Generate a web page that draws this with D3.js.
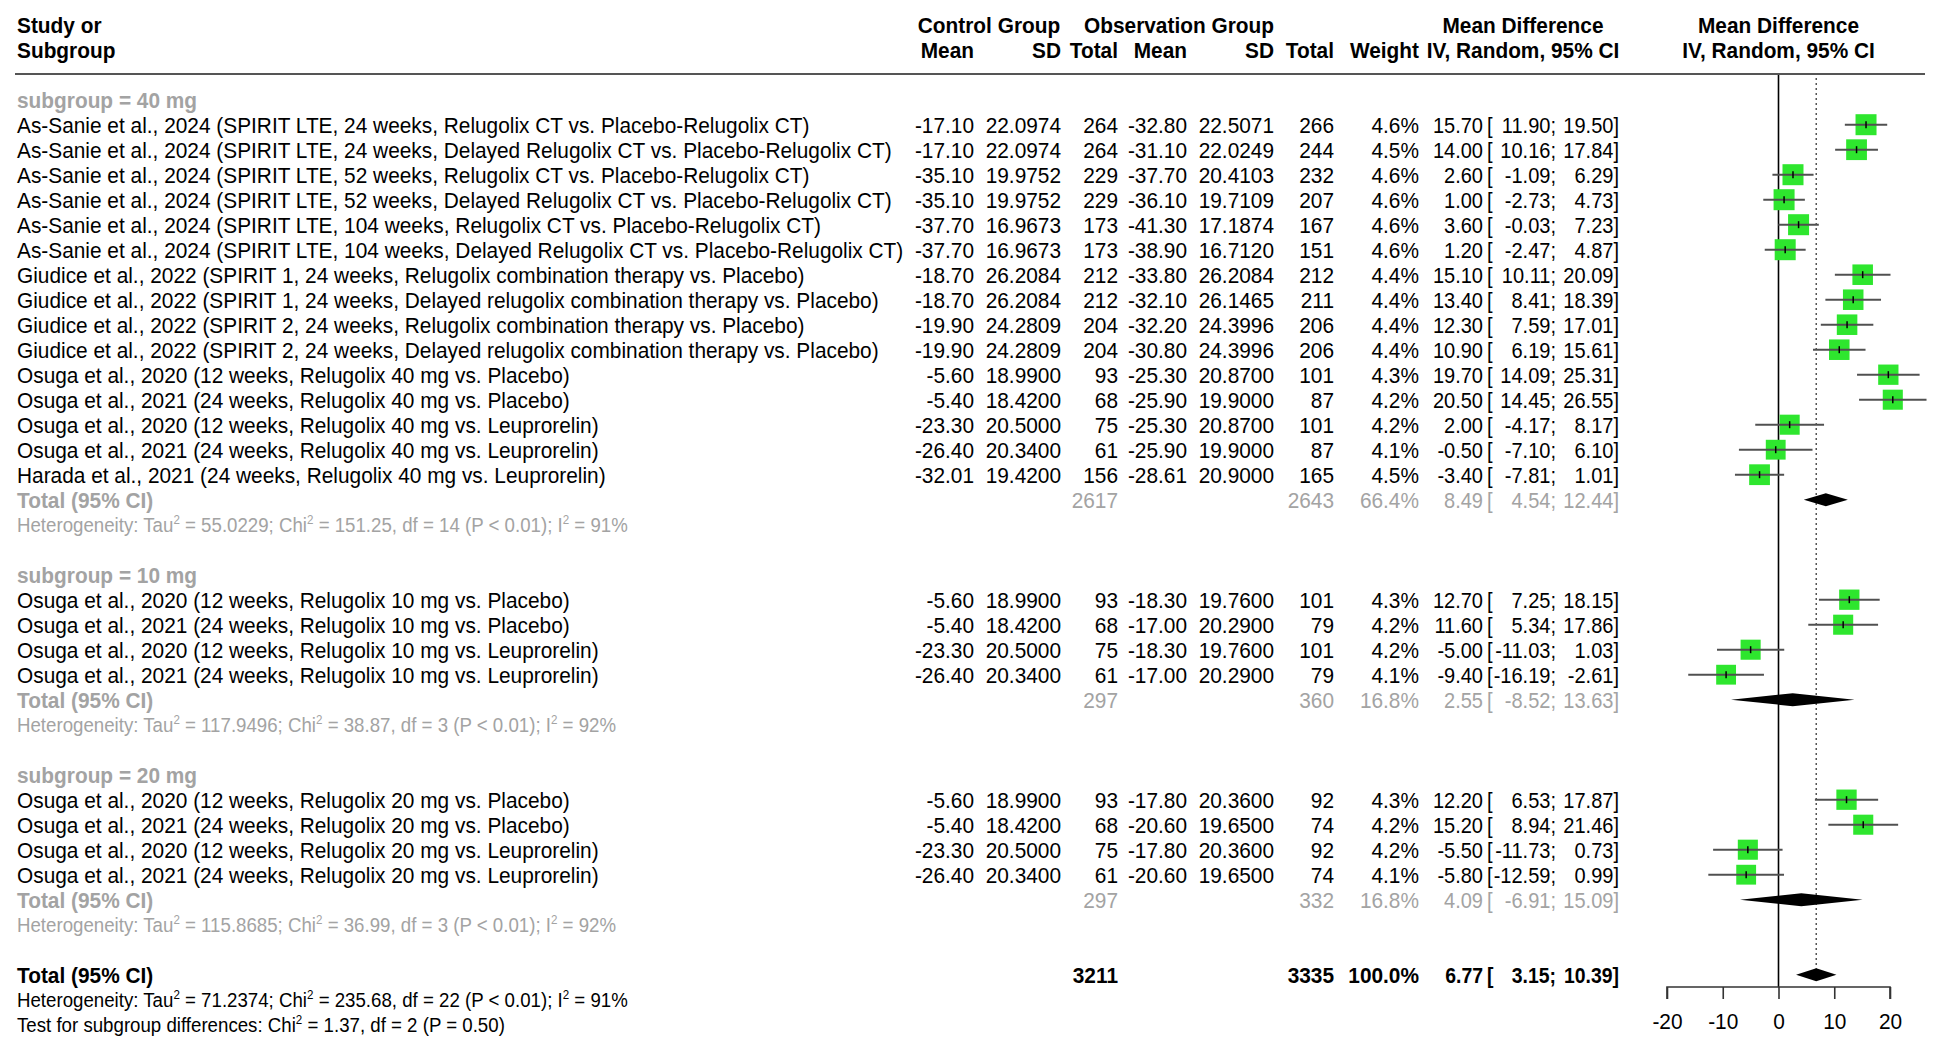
<!DOCTYPE html>
<html><head><meta charset="utf-8">
<script src="https://cdn.jsdelivr.net/npm/d3@7/dist/d3.min.js"></script>
<style>
html,body{margin:0;padding:0;background:#fff;}
svg{display:block;}
text{font-family:"Liberation Sans",Arial,sans-serif;}
</style></head>
<body>
<svg id="chart" width="1939" height="1048"></svg>
<script>
// ---------------- DATA ----------------
const subgroups = ["subgroup = 40 mg", "subgroup = 10 mg", "subgroup = 20 mg"];
const studyGroup = [0,0,0,0,0,0,0,0,0,0,0,0,0,0,0, 1,1,1,1, 2,2,2,2];
const studies = [
 "As-Sanie et al., 2024 (SPIRIT LTE, 24 weeks, Relugolix CT vs. Placebo-Relugolix CT)",
 "As-Sanie et al., 2024 (SPIRIT LTE, 24 weeks, Delayed Relugolix CT vs. Placebo-Relugolix CT)",
 "As-Sanie et al., 2024 (SPIRIT LTE, 52 weeks, Relugolix CT vs. Placebo-Relugolix CT)",
 "As-Sanie et al., 2024 (SPIRIT LTE, 52 weeks, Delayed Relugolix CT vs. Placebo-Relugolix CT)",
 "As-Sanie et al., 2024 (SPIRIT LTE, 104 weeks, Relugolix CT vs. Placebo-Relugolix CT)",
 "As-Sanie et al., 2024 (SPIRIT LTE, 104 weeks, Delayed Relugolix CT vs. Placebo-Relugolix CT)",
 "Giudice et al., 2022 (SPIRIT 1, 24 weeks, Relugolix combination therapy vs. Placebo)",
 "Giudice et al., 2022 (SPIRIT 1, 24 weeks, Delayed relugolix combination therapy vs. Placebo)",
 "Giudice et al., 2022 (SPIRIT 2, 24 weeks, Relugolix combination therapy vs. Placebo)",
 "Giudice et al., 2022 (SPIRIT 2, 24 weeks, Delayed relugolix combination therapy vs. Placebo)",
 "Osuga et al., 2020 (12 weeks, Relugolix 40 mg vs. Placebo)",
 "Osuga et al., 2021 (24 weeks, Relugolix 40 mg vs. Placebo)",
 "Osuga et al., 2020 (12 weeks, Relugolix 40 mg vs. Leuprorelin)",
 "Osuga et al., 2021 (24 weeks, Relugolix 40 mg vs. Leuprorelin)",
 "Harada et al., 2021 (24 weeks, Relugolix 40 mg vs. Leuprorelin)",
 "Osuga et al., 2020 (12 weeks, Relugolix 10 mg vs. Placebo)",
 "Osuga et al., 2021 (24 weeks, Relugolix 10 mg vs. Placebo)",
 "Osuga et al., 2020 (12 weeks, Relugolix 10 mg vs. Leuprorelin)",
 "Osuga et al., 2021 (24 weeks, Relugolix 10 mg vs. Leuprorelin)",
 "Osuga et al., 2020 (12 weeks, Relugolix 20 mg vs. Placebo)",
 "Osuga et al., 2021 (24 weeks, Relugolix 20 mg vs. Placebo)",
 "Osuga et al., 2020 (12 weeks, Relugolix 20 mg vs. Leuprorelin)",
 "Osuga et al., 2021 (24 weeks, Relugolix 20 mg vs. Leuprorelin)"
];
const ctrlMean = ["-17.10","-17.10","-35.10","-35.10","-37.70","-37.70","-18.70","-18.70","-19.90","-19.90","-5.60","-5.40","-23.30","-26.40","-32.01","-5.60","-5.40","-23.30","-26.40","-5.60","-5.40","-23.30","-26.40"];
const ctrlSD = ["22.0974","22.0974","19.9752","19.9752","16.9673","16.9673","26.2084","26.2084","24.2809","24.2809","18.9900","18.4200","20.5000","20.3400","19.4200","18.9900","18.4200","20.5000","20.3400","18.9900","18.4200","20.5000","20.3400"];
const ctrlN = [264,264,229,229,173,173,212,212,204,204,93,68,75,61,156,93,68,75,61,93,68,75,61];
const obsMean = ["-32.80","-31.10","-37.70","-36.10","-41.30","-38.90","-33.80","-32.10","-32.20","-30.80","-25.30","-25.90","-25.30","-25.90","-28.61","-18.30","-17.00","-18.30","-17.00","-17.80","-20.60","-17.80","-20.60"];
const obsSD = ["22.5071","22.0249","20.4103","19.7109","17.1874","16.7120","26.2084","26.1465","24.3996","24.3996","20.8700","19.9000","20.8700","19.9000","20.9000","19.7600","20.2900","19.7600","20.2900","20.3600","19.6500","20.3600","19.6500"];
const obsN = [266,244,232,207,167,151,212,211,206,206,101,87,101,87,165,101,79,101,79,92,74,92,74];
const weight = [4.6,4.5,4.6,4.6,4.6,4.6,4.4,4.4,4.4,4.4,4.3,4.2,4.2,4.1,4.5,4.3,4.2,4.2,4.1,4.3,4.2,4.2,4.1];
const md = [15.70,14.00,2.60,1.00,3.60,1.20,15.10,13.40,12.30,10.90,19.70,20.50,2.00,-0.50,-3.40,12.70,11.60,-5.00,-9.40,12.20,15.20,-5.50,-5.80];
const lower = [11.90,10.16,-1.09,-2.73,-0.03,-2.47,10.11,8.41,7.59,6.19,14.09,14.45,-4.17,-7.10,-7.81,7.25,5.34,-11.03,-16.19,6.53,8.94,-11.73,-12.59];
const upper = [19.50,17.84,6.29,4.73,7.23,4.87,20.09,18.39,17.01,15.61,25.31,26.55,8.17,6.10,1.01,18.15,17.86,1.03,-2.61,17.87,21.46,0.73,0.99];

const subCtrlN = [2617, 297, 297];
const subObsN = [2643, 360, 332];
const subWeight = ["66.4%", "16.8%", "16.8%"];
const subMD = [8.49, 2.55, 4.09];
const subLower = [4.54, -8.52, -6.91];
const subUpper = [12.44, 13.63, 15.09];
const subHet = [
 ["55.0229", "151.25", "14", "91%"],
 ["117.9496", "38.87", "3", "92%"],
 ["115.8685", "36.99", "3", "92%"]
];
const totCtrlN = 3211, totObsN = 3335, totWeight = "100.0%";
const totMD = 6.77, totLower = 3.15, totUpper = 10.39;
const totHet = ["71.2374", "235.68", "22", "91%"];
const testSub = ["1.37", "2", "0.50"];
const axisTicks = [-20, -10, 0, 10, 20];

// ---------------- LAYOUT ----------------
const svg = d3.select("#chart");
const FS = 22, FSs = 19.7;
const GRAY = "#a3a3a3";
const nRows = 40;
const y = d3.scaleLinear().domain([0, nRows]).range([24.7, 1024.7]);
const x = d3.scaleLinear().domain([-20, 20]).range([1667, 1890]);
const col = {cMean:974, cSD:1061, cN:1118, oMean:1187, oSD:1274, oN:1334, wt:1419, est:1483, lb:1487, lo:1556, hi:1619};
const f2 = v => v.toFixed(2);

// horizontal condensing factor so that the font behaves like a narrow face
let SX = 0.82;
{
  const probe = svg.append("text").attr("font-size", FS).text(studies[0]);
  const w = probe.node().getComputedTextLength();
  if (w > 0) SX = 793 / w;
  probe.remove();
}

function txt(xp, row, s, opts={}) {
  const sx = SX * (opts.sx || 1);
  return svg.append("text")
    .attr("transform", `translate(${xp},${y(row)}) scale(${sx},1)`)
    .attr("dy", "0.36em")
    .attr("font-size", opts.size || FS)
    .attr("text-anchor", opts.anchor || "start")
    .attr("font-weight", opts.bold ? "bold" : "normal")
    .attr("fill", opts.color || "#000").text(s);
}
function mdText(row, m, lo, hi, opts) {
  const o = Object.assign({sx:0.96}, opts);
  txt(col.est, row, f2(m), Object.assign({anchor:"end"}, o));
  txt(col.lb, row, "[", o);
  txt(col.lo, row, f2(lo) + ";", Object.assign({anchor:"end"}, o));
  txt(col.hi, row, f2(hi) + "]", Object.assign({anchor:"end"}, o));
}
const SUPSHIFT = 8;
function sup(t, after) {
  t.append("tspan").attr("dy", -SUPSHIFT).attr("font-size", FSs*0.62).text("2");
  t.append("tspan").attr("dy", SUPSHIFT).text(after);
}
function hetText(row, h, opts) {
  const t = txt(17, row, null, {size:FSs, color:opts.color});
  t.append("tspan").text("Heterogeneity: Tau");
  sup(t, " = " + h[0] + "; Chi");
  sup(t, " = " + h[1] + ", df = " + h[2] + " (P < 0.01); I");
  sup(t, " = " + h[3]);
}
function diamond(row, m, lo, hi) {
  const yc = y(row), h = 6.5;
  svg.append("path").attr("d", `M${x(lo)},${yc}L${x(m)},${yc-h}L${x(hi)},${yc}L${x(m)},${yc+h}Z`).attr("fill", "#000");
}

// header
txt(17, 0, "Study or", {bold:true});
txt(17, 1, "Subgroup", {bold:true});
txt((917+1061)/2, 0, "Control Group", {bold:true, anchor:"middle"});
txt((1084+1274)/2, 0, "Observation Group", {bold:true, anchor:"middle"});
txt(col.cMean, 1, "Mean", {bold:true, anchor:"end"});
txt(col.cSD, 1, "SD", {bold:true, anchor:"end"});
txt(col.cN, 1, "Total", {bold:true, anchor:"end"});
txt(col.oMean, 1, "Mean", {bold:true, anchor:"end"});
txt(col.oSD, 1, "SD", {bold:true, anchor:"end"});
txt(col.oN, 1, "Total", {bold:true, anchor:"end"});
txt(col.wt, 1, "Weight", {bold:true, anchor:"end"});
txt(1523, 0, "Mean Difference", {bold:true, anchor:"middle"});
txt(1523, 1, "IV, Random, 95% CI", {bold:true, anchor:"middle"});
txt(x(0), 0, "Mean Difference", {bold:true, anchor:"middle"});
txt(x(0), 1, "IV, Random, 95% CI", {bold:true, anchor:"middle"});
svg.append("line").attr("x1", 15).attr("x2", 1925).attr("y1", 74).attr("y2", 74)
  .attr("stroke", "#555").attr("stroke-width", 2);

// reference lines
const axisY = 987;
svg.append("line").attr("x1", x(0)).attr("x2", x(0)).attr("y1", 75).attr("y2", axisY)
  .attr("stroke", "#000").attr("stroke-width", 1.6);
svg.append("line").attr("x1", x(totMD)).attr("x2", x(totMD)).attr("y1", 78).attr("y2", y(38) - 6)
  .attr("stroke", "#555").attr("stroke-width", 1.5).attr("stroke-dasharray", "2,3");

// rows
let row = 3;
const sqScale = d3.scaleSqrt().domain([0, 4.6]).range([0, 21]);
for (let g = 0; g < subgroups.length; g++) {
  txt(17, row, subgroups[g], {bold:true, color:GRAY});
  row++;
  studies.forEach((s, i) => {
    if (studyGroup[i] !== g) return;
    txt(17, row, s);
    txt(col.cMean, row, ctrlMean[i], {anchor:"end"});
    txt(col.cSD, row, ctrlSD[i], {anchor:"end"});
    txt(col.cN, row, ctrlN[i], {anchor:"end"});
    txt(col.oMean, row, obsMean[i], {anchor:"end"});
    txt(col.oSD, row, obsSD[i], {anchor:"end"});
    txt(col.oN, row, obsN[i], {anchor:"end"});
    txt(col.wt, row, weight[i].toFixed(1) + "%", {anchor:"end"});
    mdText(row, md[i], lower[i], upper[i], {});
    const yc = y(row), sz = sqScale(weight[i]);
    svg.append("rect").attr("x", x(md[i]) - sz/2).attr("y", yc - sz/2).attr("width", sz).attr("height", sz)
      .attr("fill", "#2ee62e");
    svg.append("line").attr("x1", x(lower[i])).attr("x2", x(upper[i])).attr("y1", yc).attr("y2", yc)
      .attr("stroke", "#505050").attr("stroke-width", 2);
    svg.append("line").attr("x1", x(md[i])).attr("x2", x(md[i])).attr("y1", yc - 3.5).attr("y2", yc + 3.5)
      .attr("stroke", "#000").attr("stroke-width", 1.5);
    row++;
  });
  txt(17, row, "Total (95% CI)", {bold:true, color:GRAY});
  txt(col.cN, row, subCtrlN[g], {anchor:"end", color:GRAY});
  txt(col.oN, row, subObsN[g], {anchor:"end", color:GRAY});
  txt(col.wt, row, subWeight[g], {anchor:"end", color:GRAY});
  mdText(row, subMD[g], subLower[g], subUpper[g], {color:GRAY});
  diamond(row, subMD[g], subLower[g], subUpper[g]);
  row++;
  hetText(row, subHet[g], {color:GRAY});
  row += 2;
}
// overall
txt(17, row, "Total (95% CI)", {bold:true});
txt(col.cN, row, totCtrlN, {anchor:"end", bold:true});
txt(col.oN, row, totObsN, {anchor:"end", bold:true});
txt(col.wt, row, totWeight, {anchor:"end", bold:true});
mdText(row, totMD, totLower, totUpper, {bold:true, sx:0.93});
diamond(row, totMD, totLower, totUpper);
row++;
hetText(row, totHet, {});
row++;
{
  const t = txt(17, row, null, {size:FSs});
  t.append("tspan").text("Test for subgroup differences: Chi");
  sup(t, " = " + testSub[0] + ", df = " + testSub[1] + " (P = " + testSub[2] + ")");
}

// axis
const axis = d3.axisBottom(x).tickValues(axisTicks).tickSize(12).tickPadding(14).tickFormat(d => String(d));
const ag = svg.append("g").attr("transform", `translate(0,${axisY})`).call(axis);
ag.select(".domain").attr("stroke", "#333").attr("stroke-width", 1.6).attr("d", `M${x(-20)},12V0H${x(20)}V12`);
ag.selectAll(".tick line").attr("stroke", "#333").attr("stroke-width", 1.6);
ag.selectAll(".tick text").attr("font-size", 22).attr("fill", "#000")
  .attr("font-family", '"Liberation Sans",Arial,sans-serif')
  .attr("transform", `scale(${SX},1)`);
</script>
</body></html>
